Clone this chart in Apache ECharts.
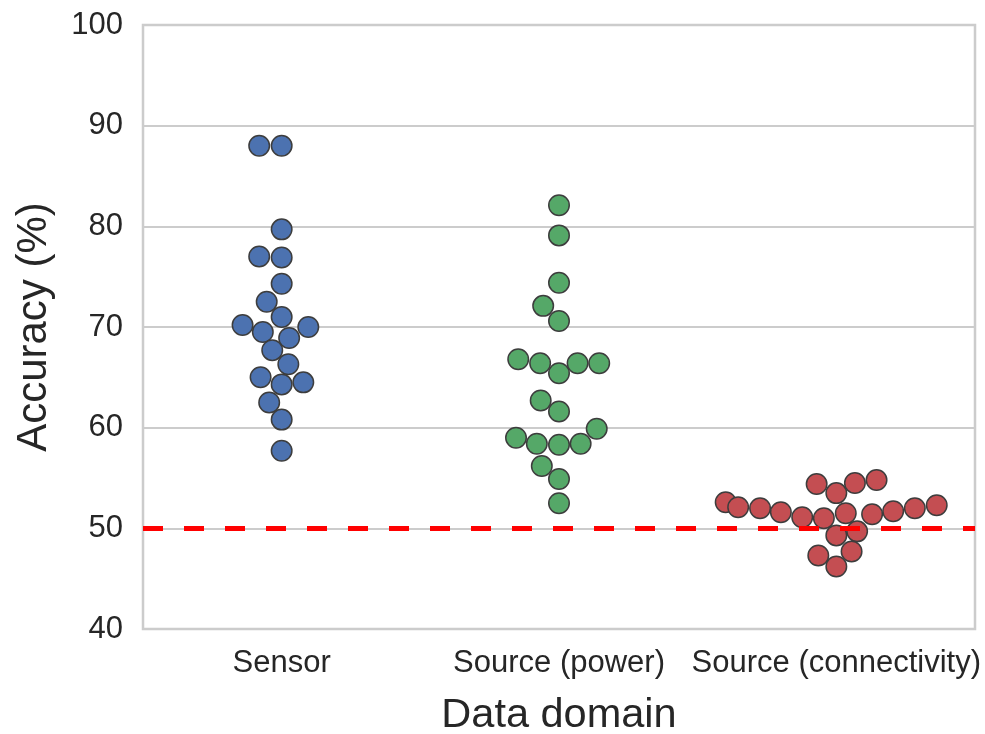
<!DOCTYPE html>
<html>
<head>
<meta charset="utf-8">
<script src="https://cdn.jsdelivr.net/npm/echarts@6/dist/echarts.min.js"></script>
<style>
  html, body { margin: 0; padding: 0; background: #fff; }
  #chart { width: 985px; height: 734px; }
</style>
</head>
<body>
<div id="chart"></div>
<script>
  // categories on the x axis
  var categories = ['Sensor', 'Source (power)', 'Source (connectivity)']
  var yTicks = [40, 50, 60, 70, 80, 90, 100]
  var chanceLevel = 50

  // accuracy values (%), with the swarm offset of each dot (in category widths)
  var sensorVals = [88.0, 88.0, 79.7, 77.0, 76.9, 74.3, 72.5, 71.0, 70.2, 69.5, 70.0, 68.9, 67.7, 66.3, 65.0, 64.3, 64.5, 62.5, 60.8, 57.7]
  var sensorOffs = [-0.081, 0, 0, -0.081, 0, 0, -0.054, 0, -0.141, -0.068, 0.096, 0.027, -0.034, 0.024, -0.076, 0, 0.078, -0.045, 0, 0]

  var powerVals = [82.1, 79.1, 74.4, 72.1, 70.6, 66.8, 66.4, 65.4, 66.4, 66.4, 62.7, 61.6, 59.0, 58.4, 58.3, 58.4, 59.9, 56.2, 54.9, 52.5]
  var powerOffs = [0, 0, 0, -0.057, 0, -0.147, -0.068, 0, 0.067, 0.145, -0.066, 0, -0.155, -0.080, 0, 0.078, 0.136, -0.062, 0, 0]

  var connVals = [52.6, 52.1, 52.0, 51.6, 51.1, 51.0, 54.4, 53.5, 54.5, 54.8, 51.5, 51.4, 51.7, 52.0, 52.3, 49.3, 49.7, 47.3, 47.7, 46.2]
  var connOffs = [-0.399, -0.354, -0.275, -0.200, -0.123, -0.045, -0.071, 0, 0.067, 0.145, 0.034, 0.129, 0.205, 0.283, 0.362, 0, 0.075, -0.065, 0.055, 0]

  var colors = ['#4C72B0', '#55A868', '#C44E52']

  function swarm(idx, vals, offs) {
    var out = []
    for (var i = 0; i < vals.length; i++) {
      out.push([idx + offs[i], vals[i]])
    }
    return out
  }

  var groups = [
    swarm(0, sensorVals, sensorOffs),
    swarm(1, powerVals, powerOffs),
    swarm(2, connVals, connOffs)
  ]

  var textColor = '#262626'
  var fontFam = '"Liberation Sans", Arial, sans-serif'

  var series = [{
    // chance level line
    type: 'line',
    xAxisIndex: 1,
    data: [],
    z: 1,
    markLine: {
      silent: true,
      symbol: 'none',
      label: { show: false },
      animation: false,
      lineStyle: { color: '#ff0000', type: [20, 21], width: 5 },
      data: [{ yAxis: chanceLevel }]
    }
  }]
  groups.forEach(function (g, i) {
    series.push({
      name: categories[i],
      type: 'scatter',
      xAxisIndex: 1,
      z: 3,
      symbolSize: 20.5,
      itemStyle: { color: colors[i], borderColor: '#3d3d3d', borderWidth: 1.5, opacity: 1 },
      data: g
    })
  })

  var myChart = echarts.init(document.getElementById('chart'))
  var option = {
    animation: false,
    backgroundColor: '#fff',
    grid: {
      left: 143, right: 10, top: 25, bottom: 105,
      outerBoundsMode: 'none',
      show: true,
      borderColor: '#cccccc',
      borderWidth: 2.5,
      backgroundColor: '#fff'
    },
    xAxis: [{
      type: 'category',
      data: categories,
      boundaryGap: true,
      name: 'Data domain',
      nameLocation: 'middle',
      nameGap: 66,
      nameTextStyle: { fontSize: 41.5, color: textColor, fontFamily: fontFam },
      axisLine: { show: false },
      axisTick: { show: false },
      splitLine: { show: false },
      axisLabel: { fontSize: 31, color: textColor, fontFamily: fontFam, margin: 19, interval: 0 }
    }, {
      type: 'value',
      min: -0.5,
      max: 2.5,
      show: false
    }],
    yAxis: {
      type: 'value',
      min: yTicks[0],
      max: yTicks[yTicks.length - 1],
      interval: 10,
      name: 'Accuracy (%)',
      nameLocation: 'middle',
      nameRotate: 90,
      nameGap: 88,
      nameTextStyle: { fontSize: 42, color: textColor, fontFamily: fontFam },
      axisLine: { show: false },
      axisTick: { show: false },
      axisLabel: { fontSize: 31, color: textColor, fontFamily: fontFam, margin: 20 },
      splitLine: { show: true, lineStyle: { color: '#cccccc', width: 2 } }
    },
    series: series
  }
  myChart.setOption(option)
</script>
</body>
</html>
